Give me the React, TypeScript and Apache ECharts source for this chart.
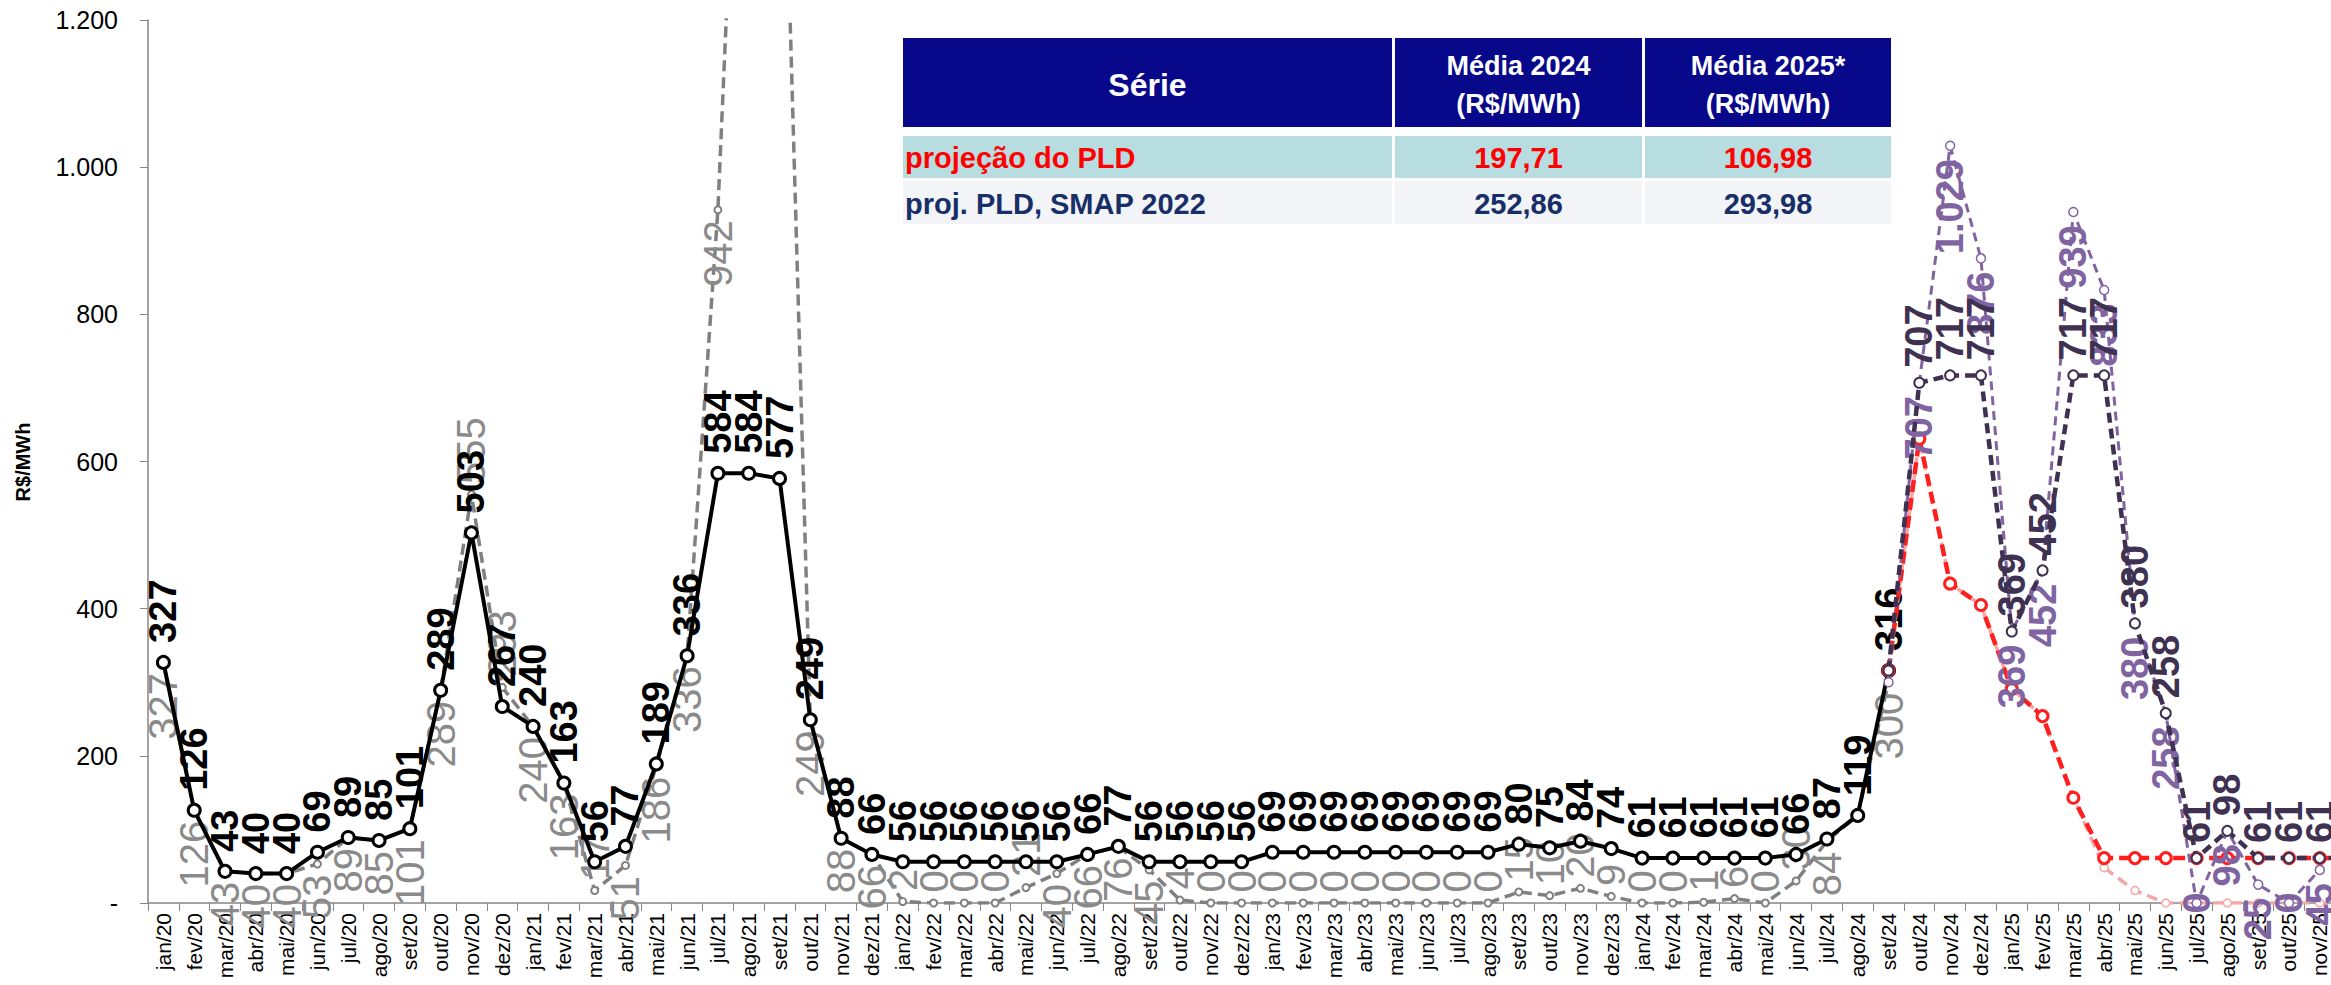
import React, { useEffect, useRef } from 'react';
import * as echarts from 'echarts';

// ---------------- DATA ----------------
const categories = [
  'jan/20','fev/20','mar/20','abr/20','mai/20','jun/20','jul/20','ago/20','set/20','out/20','nov/20','dez/20',
  'jan/21','fev/21','mar/21','abr/21','mai/21','jun/21','jul/21','ago/21','set/21','out/21','nov/21','dez/21',
  'jan/22','fev/22','mar/22','abr/22','mai/22','jun/22','jul/22','ago/22','set/22','out/22','nov/22','dez/22',
  'jan/23','fev/23','mar/23','abr/23','mai/23','jun/23','jul/23','ago/23','set/23','out/23','nov/23','dez/23',
  'jan/24','fev/24','mar/24','abr/24','mai/24','jun/24','jul/24','ago/24','set/24','out/24','nov/24','dez/24',
  'jan/25','fev/25','mar/25','abr/25','mai/25','jun/25','jul/25','ago/25','set/25','out/25','nov/25','dez/25',
];

const N = null;

// PLD (histórico) - black solid
const pldHistorico = [
  327, 126, 43, 40, 40, 69, 89, 85, 101, 289, 503, 267,
  240, 163, 56, 77, 189, 336, 584, 584, 577, 249, 88, 66,
  56, 56, 56, 56, 56, 56, 66, 77, 56, 56, 56, 56,
  69, 69, 69, 69, 69, 69, 69, 69, 80, 75, 84, 74,
  61, 61, 61, 61, 61, 66, 87, 119, 316, N, N, N,
  N, N, N, N, N, N, N, N, N, N, N, N,
];

// gray dashed series
const pldSemLimites = [
  327, 126, 43, 40, 40, 53, 89, 85, 101, 289, 555, 293,
  240, 163, 17, 51, 186, 336, 942, 1900, 1700, 249, 88, 66,
  2, 0, 0, 0, 21, 40, 66, 76, 45, 4, 0, 0,
  0, 0, 0, 0, 0, 0, 0, 0, 15, 10, 20, 9,
  0, 0, 1, 6, 0, 30, 84, 119, 300, N, N, N,
  N, N, N, N, N, N, N, N, N, N, N, N,
];
const grayLabelsAbove = ['nov/20', 'dez/20'];
const grayLabelsHidden = ['ago/24'];

// projeção do PLD - red dashed
const projecaoPLD = [
  N, N, N, N, N, N, N, N, N, N, N, N,
  N, N, N, N, N, N, N, N, N, N, N, N,
  N, N, N, N, N, N, N, N, N, N, N, N,
  N, N, N, N, N, N, N, N, N, N, N, N,
  N, N, N, N, N, N, N, N, 316, 631, 434, 405,
  291, 254, 143, 61, 61, 61, 61, 61, 61, 61, 61, 61,
];

// projeção sem piso - light pink dashed
const projecaoSemPiso = [
  N, N, N, N, N, N, N, N, N, N, N, N,
  N, N, N, N, N, N, N, N, N, N, N, N,
  N, N, N, N, N, N, N, N, N, N, N, N,
  N, N, N, N, N, N, N, N, N, N, N, N,
  N, N, N, N, N, N, N, N, 316, 631, 434, 405,
  291, 254, 143, 48, 17, 0, 0, 0, 0, 0, 0, 0,
];

// proj. PLD, SMAP 2022 - dark dashed
const projSmap2022 = [
  N, N, N, N, N, N, N, N, N, N, N, N,
  N, N, N, N, N, N, N, N, N, N, N, N,
  N, N, N, N, N, N, N, N, N, N, N, N,
  N, N, N, N, N, N, N, N, N, N, N, N,
  N, N, N, N, N, N, N, N, 316, 707, 717, 717,
  369, 452, 717, 717, 380, 258, 61, 98, 61, 61, 61, 61,
];

// SMAP 2022 sem limites - light purple dashed
const smap2022SemLimites = [
  N, N, N, N, N, N, N, N, N, N, N, N,
  N, N, N, N, N, N, N, N, N, N, N, N,
  N, N, N, N, N, N, N, N, N, N, N, N,
  N, N, N, N, N, N, N, N, N, N, N, N,
  N, N, N, N, N, N, N, N, 300, 707, 1029, 876,
  369, 452, 939, 833, 380, 258, 0, 98, 25, 0, 45, N,
];
const projLabelsHidden = ['set/24'];

const yTicks = [0, 200, 400, 600, 800, 1000, 1200];

const tableHeader = ['Série', 'Média 2024\n(R$/MWh)', 'Média 2025*\n(R$/MWh)'];
const tableRows = [
  ['projeção do PLD', '197,71', '106,98'],
  ['proj. PLD, SMAP 2022', '252,86', '293,98'],
];

// ---------------- HELPERS ----------------
const FONT = "'Liberation Sans', Arial, sans-serif";

function fmt(v: number): string {
  return String(v).replace(/\B(?=(\d{3})+(?!\d))/g, '.');
}

function posStyle(pos: string) {
  if (pos === 'top') return { position: 'top', align: 'left', verticalAlign: 'middle' };
  if (pos === 'bottom') return { position: 'bottom', align: 'right', verticalAlign: 'middle' };
  return { position: 'inside', align: 'center', verticalAlign: 'middle' };
}

function buildItems(values: (number | null)[], posFn: (v: number, cat: string) => string, hidden: string[] = []) {
  return values.map((v, i) => {
    if (v === null) return null;
    const cat = categories[i];
    if (hidden.includes(cat)) return { value: v, label: { show: false } };
    return { value: v, label: posStyle(posFn(v, cat)) };
  });
}

// ---------------- COMPONENT ----------------
export default function App() {
  const ref = useRef<HTMLDivElement>(null);

  useEffect(() => {
    if (!ref.current) return;
    const chart = echarts.init(ref.current, null, { renderer: 'svg' });

    const GRID_LEFT = 148;
    const GRID_TOP = 20;
    const GRID_W = 2218;
    const GRID_H = 883;

    const baseLabel = {
      show: true,
      rotate: 90,
      fontFamily: FONT,
      formatter: (p: any) => fmt(p.value),
    };

    // table graphics
    const colX = [903, 1395, 1645];
    const colW = [489, 247, 246];
    const headerY = 38, headerH = 89;
    const rowY = [136, 181];
    const rowH = [42, 43];
    const rowBg = ['#b7dde0', '#f2f4f8'];
    const rowColor = ['#ff0000', '#172f66'];
    const tableEls: any[] = [];
    colX.forEach((x, c) => {
      tableEls.push({ type: 'rect', shape: { x, y: headerY, width: colW[c], height: headerH }, style: { fill: '#08088a' } });
      tableEls.push({
        type: 'text',
        x: x + colW[c] / 2,
        y: headerY + headerH / 2 + 2,
        style: {
          text: tableHeader[c],
          fill: '#ffffff',
          font: `bold ${c === 0 ? 32 : 27}px ${FONT}`,
          align: 'center',
          verticalAlign: 'middle',
          lineHeight: 38,
        },
      });
      tableRows.forEach((row, r) => {
        tableEls.push({ type: 'rect', shape: { x, y: rowY[r], width: colW[c], height: rowH[r] }, style: { fill: rowBg[r] } });
        tableEls.push({
          type: 'text',
          x: c === 0 ? x + 2 : x + colW[c] / 2,
          y: rowY[r] + rowH[r] / 2 + 1,
          style: {
            text: row[c],
            fill: rowColor[r],
            font: `bold 29px ${FONT}`,
            align: c === 0 ? 'left' : 'center',
            verticalAlign: 'middle',
          },
        });
      });
    });

    const option: any = {
      animation: false,
      backgroundColor: '#ffffff',
      grid: {
        left: GRID_LEFT,
        top: GRID_TOP,
        width: GRID_W,
        height: GRID_H,
        containLabel: false,
        outerBoundsMode: 'none',
      },
      xAxis: {
        type: 'category',
        data: categories,
        boundaryGap: true,
        axisLine: { show: true, lineStyle: { color: '#868686', width: 1.5 } },
        axisTick: { show: true, length: 8, interval: 0, lineStyle: { color: '#868686' } },
        axisLabel: { interval: 0, rotate: 90, fontSize: 21, fontFamily: FONT, color: '#000', margin: 10 },
      },
      yAxis: {
        type: 'value',
        min: yTicks[0],
        max: yTicks[yTicks.length - 1],
        interval: yTicks[1] - yTicks[0],
        splitLine: { show: false },
        axisLine: { show: true, lineStyle: { color: '#868686', width: 1.5 } },
        axisTick: { show: true, length: 8, lineStyle: { color: '#868686' } },
        axisLabel: {
          fontSize: 25,
          fontFamily: FONT,
          color: '#000',
          margin: 30,
          formatter: (v: number) => (v === 0 ? '-' : fmt(v)),
        },
      },
      graphic: [
        {
          type: 'text',
          x: 23,
          y: 462,
          rotation: Math.PI / 2,
          style: { text: 'R$/MWh', font: `bold 20px ${FONT}`, fill: '#000', align: 'center', verticalAlign: 'middle' },
        },
        ...tableEls,
      ],
      series: [
        {
          name: 'PLD sem limites',
          type: 'line',
          data: buildItems(pldSemLimites, (v, cat) => (v < 35 || grayLabelsAbove.includes(cat) ? 'top' : 'bottom'), grayLabelsHidden),
          showAllSymbol: true,
          symbol: 'circle',
          symbolSize: 7,
          itemStyle: { color: '#ffffff', borderColor: '#808080', borderWidth: 2 },
          lineStyle: { color: '#808080', width: 3.5, type: [11, 6] },
          label: { ...baseLabel, fontSize: 40, color: '#8a8a8a', fontWeight: 'normal', distance: 6 },
          z: 2,
        },
        {
          name: 'PLD',
          type: 'line',
          data: buildItems(pldHistorico, () => 'top'),
          showAllSymbol: true,
          symbol: 'circle',
          symbolSize: 12,
          itemStyle: { color: '#ffffff', borderColor: '#000000', borderWidth: 3 },
          lineStyle: { color: '#000000', width: 4 },
          label: { ...baseLabel, fontSize: 38, color: '#000000', fontWeight: 'bold', distance: 12 },
          z: 3,
        },
        {
          name: 'projeção sem piso',
          type: 'line',
          data: projecaoSemPiso,
          showAllSymbol: true,
          symbol: 'circle',
          symbolSize: 8,
          itemStyle: { color: '#ffffff', borderColor: '#f6a5a5', borderWidth: 1.5 },
          lineStyle: { color: '#f6a5a5', width: 3.5, type: [11, 6] },
          label: { show: false },
          z: 4,
        },
        {
          name: 'projeção do PLD',
          type: 'line',
          data: projecaoPLD,
          showAllSymbol: true,
          symbol: 'circle',
          symbolSize: 11,
          itemStyle: { color: '#ffffff', borderColor: '#ff1f1f', borderWidth: 3 },
          lineStyle: { color: '#ff1f1f', width: 4.5, type: [12, 6] },
          label: { show: false },
          z: 5,
        },
        {
          name: 'SMAP 2022 sem limites',
          type: 'line',
          data: buildItems(smap2022SemLimites, (v) => (v === 0 ? 'inside' : 'bottom'), projLabelsHidden),
          showAllSymbol: true,
          symbol: 'circle',
          symbolSize: 9,
          itemStyle: { color: '#ffffff', borderColor: '#8064a2', borderWidth: 1.5 },
          lineStyle: { color: '#8064a2', width: 3, type: [9, 6] },
          label: { ...baseLabel, fontSize: 38, color: '#8064a2', fontWeight: 'bold', distance: 8 },
          z: 6,
        },
        {
          name: 'proj. PLD, SMAP 2022',
          type: 'line',
          data: buildItems(projSmap2022, () => 'top', projLabelsHidden),
          showAllSymbol: true,
          symbol: 'circle',
          symbolSize: 10,
          itemStyle: { color: '#ffffff', borderColor: '#3f3151', borderWidth: 2 },
          lineStyle: { color: '#3f3151', width: 4.5, type: [10, 6] },
          label: { ...baseLabel, fontSize: 38, color: '#3f3151', fontWeight: 'bold', distance: 9 },
          z: 7,
        },
      ],
    };

    chart.setOption(option);
    return () => chart.dispose();
  }, []);

  return (
    <div style={{ position: 'fixed', left: 0, top: 0, width: '100vw', height: '100vh', overflow: 'hidden', background: '#fff' }}>
      <div ref={ref} style={{ width: 2400, height: 985 }} />
    </div>
  );
}
